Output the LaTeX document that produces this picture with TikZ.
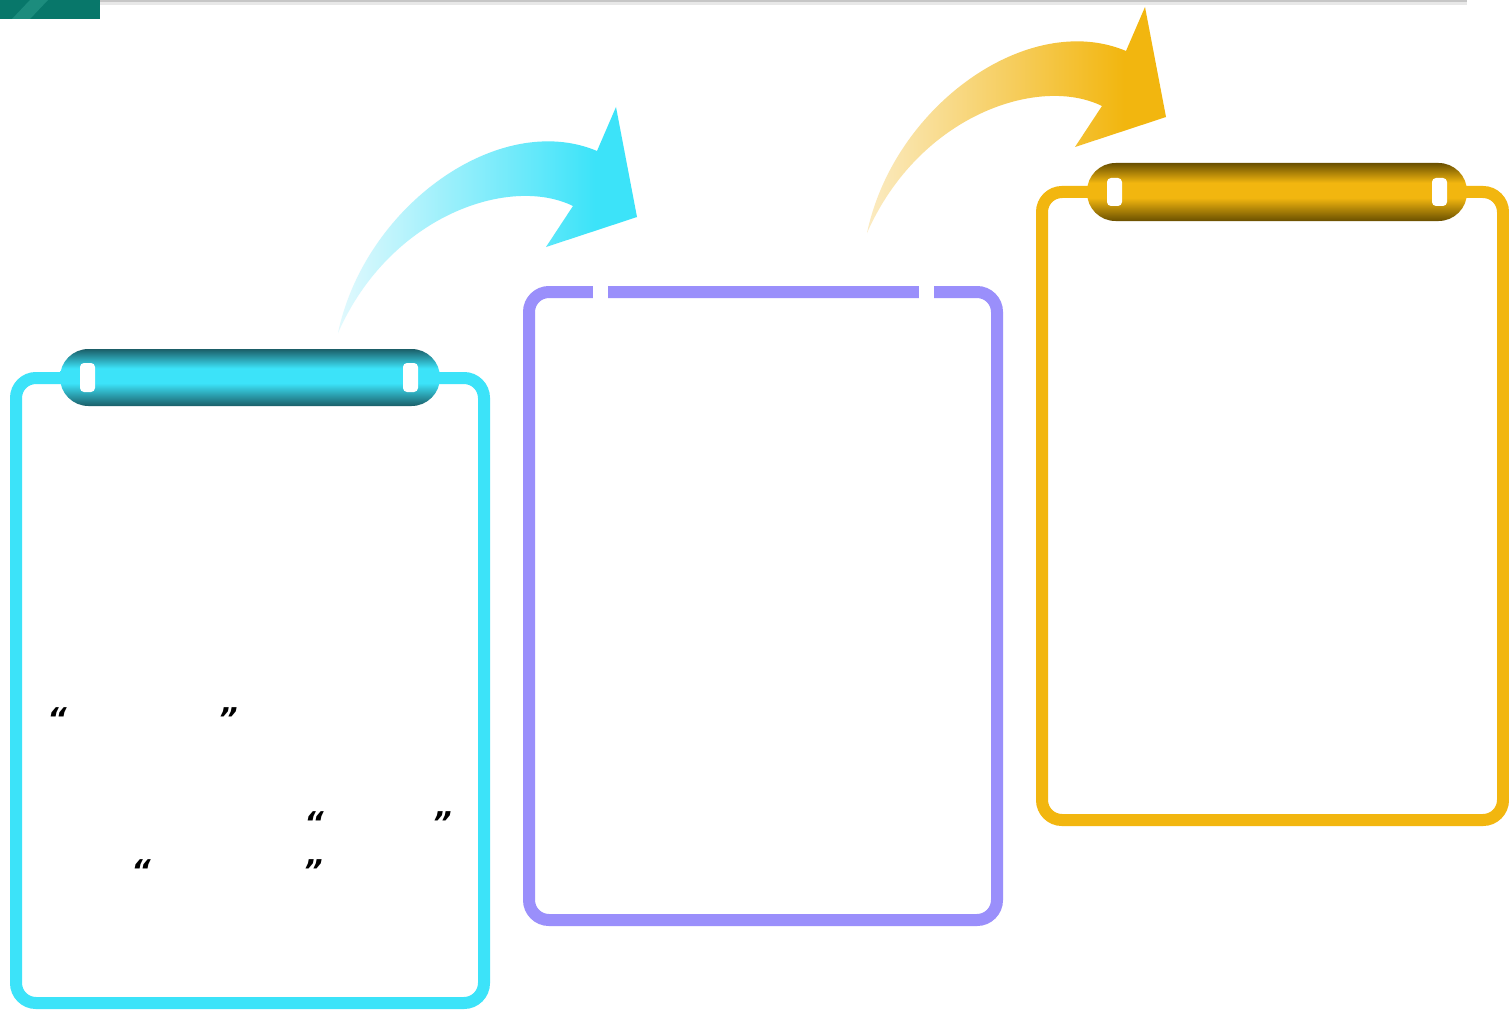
\documentclass[tikz,border=0pt]{standalone}
\usepackage{fontspec}
\newfontfamily\qfont{DejaVu Sans}
\definecolor{cyanF}{HTML}{3CE3F9}
\definecolor{cyanD}{HTML}{1B5E68}
\definecolor{cyanL}{HTML}{E2F9FD}
\definecolor{purpF}{HTML}{9A8FFB}
\definecolor{yelF}{HTML}{F2B60F}
\definecolor{yelD}{HTML}{6A5000}
\definecolor{yelL}{HTML}{FBEBC2}
\definecolor{tealB}{HTML}{08776A}
\definecolor{tealL}{HTML}{2A9A8A}
\pgfdeclareverticalshading{tabCyan}{100bp}{color(0bp)=(cyanD); color(25bp)=(cyanD); color(45bp)=(cyanF); color(58bp)=(cyanF); color(75bp)=(cyanD); color(100bp)=(cyanD)}
\pgfdeclareverticalshading{tabYel}{100bp}{color(0bp)=(yelD); color(25bp)=(yelD); color(45bp)=(yelF); color(58bp)=(yelF); color(75bp)=(yelD); color(100bp)=(yelD)}
\pgfdeclarehorizontalshading{arrCyan}{100bp}{color(0bp)=(cyanL); color(25bp)=(cyanL); color(68bp)=(cyanF); color(100bp)=(cyanF)}
\pgfdeclarehorizontalshading{arrYel}{100bp}{color(0bp)=(yelL); color(25bp)=(yelL); color(68bp)=(yelF); color(100bp)=(yelF)}
\tikzset{
  framecyan/.style={line width=12pt, draw=cyanF, rounded corners=20pt},
  framepurp/.style={line width=12pt, draw=purpF, rounded corners=20pt},
  frameyel/.style={line width=12pt, draw=yelF, rounded corners=20pt},
  tabshape/.style={rounded corners=28.5pt},
  hole/.style={fill=white, rounded corners=4pt},
  quote/.style={inner sep=0pt, font=\qfont\bfseries\itshape\fontsize{30}{30}\selectfont, text=black}
}
\begin{document}
\begin{tikzpicture}[x=1pt,y=-1pt]
\useasboundingbox (0,0) rectangle (1509,1011);
\fill[white] (0,0) rectangle (1509,1011);
% top decoration
\fill[tealB] (0,0) rectangle (100,19);
\fill[tealL, opacity=0.6] (12,19) -- (30,0) -- (48,0) -- (30,19) -- cycle;
\fill[gray!18] (100,2) rectangle (1467,5);
\fill[gray!45] (100,0) rectangle (1467,2.5);

% arrows
\shade[shading=arrCyan] (338,333) .. controls (365,205) and (500,110) .. (597,151)
  -- (616,107) -- (637,217) -- (546,247) -- (573,206)
  .. controls (510,175) and (390,215) .. (338,333) -- cycle;
\shade[shading=arrYel] (867,233) .. controls (894,105) and (1029,10) .. (1126,51)
  -- (1145,7) -- (1166,117) -- (1075,147) -- (1102,106)
  .. controls (1039,75) and (919,115) .. (867,233) -- cycle;

% cyan card
\draw[framecyan] (16,378) rectangle (484,1003);
\shade[shading=tabCyan, tabshape] (60,349) rectangle (440,406);
\fill[hole] (80,363) rectangle (95,392);
\fill[hole] (403,363) rectangle (418,392);

% purple card
\draw[framepurp] (529,292) rectangle (997,920);
\fill[white] (593,283) rectangle (608,301);
\fill[white] (919,283) rectangle (934,301);

% yellow card
\draw[frameyel] (1042,192) rectangle (1503,820);
\shade[shading=tabYel, tabshape] (1087,163) rectangle (1467,221);
\fill[hole] (1107,178) rectangle (1122,206);
\fill[hole] (1432,178) rectangle (1447,206);

% quote marks
\node[quote] (q1) at (57,719) {“};
\node[quote] (q2) at (228,719) {”};
\node[quote] (q3) at (314,823) {“};
\node[quote] (q4) at (442,823) {”};
\node[quote] (q5) at (141,871) {“};
\node[quote] (q6) at (313,871) {”};
\end{tikzpicture}
\end{document}
